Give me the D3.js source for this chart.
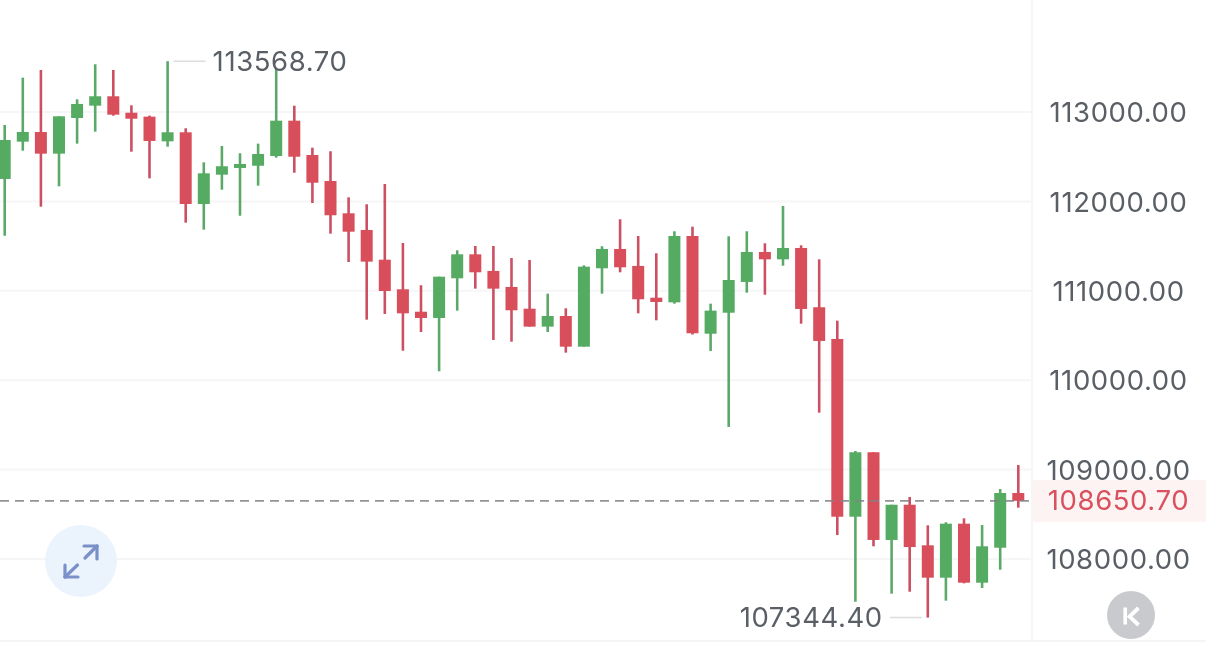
<!DOCTYPE html>
<html><head><meta charset="utf-8">
<style>html,body{margin:0;padding:0;background:#fff;overflow:hidden}svg{display:block;filter:blur(0.4px)}
text{font-family:Inter,Roboto,sans-serif;font-feature-settings:"pnum" 1;letter-spacing:0.6px;}</style>
<script src="https://cdn.jsdelivr.net/npm/d3@7"></script></head>
<body><svg id="c" width="1206" height="646"></svg>
<script>
const opens=[112251,112668,112776,112534,112933,113071,113176,112992,112948,112672,112773,111971,112299,112374,112399,112508,112903,112519,112228,111867,111680,111348,111017,110766,110696,111140,111408,111222,111043,110800,110599,110718,110375,111252,111468,111278,110923,110871,111613,110520,110755,111099,111434,111352,111479,110816,110461,108473,109194,108213,108607,108153,107791,108395,107735,108126,108738];
const closes=[112687,112776,112534,112952,113090,113176,112970,112925,112676,112773,111971,112314,112393,112418,112530,112903,112500,112209,111845,111661,111326,110998,110748,110696,111158,111408,111207,111024,110782,110599,110718,110375,111270,111468,111263,110905,110875,111613,110525,110778,111121,111434,111352,111479,110797,110439,108473,109194,108213,108607,108134,107791,108395,107735,108142,108738,108650.7];
const highs=[112855,113384,113470,112952,113142,113534,113470,113075,112959,113568.7,112818,112437,112620,112538,112646,113481,113071,112601,112561,112046,111968,112195,111535,111062,111158,111453,111501,111501,111367,111345,110968,110804,111285,111498,111800,111613,111420,111666,111717,110856,111610,111666,111531,111949,111509,111352,110666,109208,109194,108607,108694,108377,108411,108455,108380,108783,109051];
const lows=[111616,112567,111941,112169,112646,112780,112959,112556,112258,112612,111762,111684,112131,111840,112176,112489,112321,111982,111639,111322,110677,110741,110330,110539,110100,110778,111024,110450,110431,110599,110539,110308,110375,110968,111207,110748,110670,110856,110511,110327,109477,110979,110956,111281,110632,109637,108268,107522,108142,107612,107634,107344.4,107534,107728,107676,107880,108574];
const tickValues=[113000,112000,111000,110000,109000,108000];
const lastPrice=108650.70, maxPrice=113568.70, minPrice=107344.40;
const RED="#d84f5b", GREEN="#56ab63", RED_WICK="#cc5062", GREEN_WICK="#5aa968";
const TXT="#5a5f66";

const svg=d3.select("#c");
const x=d3.scaleLinear().domain([0,56]).range([4.7,1018.3]);
const y=d3.scaleLinear().domain([108000,113000]).range([559,112]);
const fmt=d3.format(".2f");
const axisX=1032;
const FS="27.5px";

// price band
svg.append("rect").attr("x",axisX).attr("y",y(lastPrice)-21).attr("width",1206-axisX).attr("height",42).attr("fill","#fdf3f2");
// grid
svg.append("g").selectAll("line").data(tickValues).join("line")
  .attr("x1",0).attr("x2",axisX).attr("y1",d=>y(d)).attr("y2",d=>y(d))
  .attr("stroke","#f6f6f8").attr("stroke-width",2);
// frame
svg.append("line").attr("x1",axisX).attr("x2",axisX).attr("y1",0).attr("y2",640).attr("stroke","#f6f6f8").attr("stroke-width",2);
svg.append("line").attr("x1",0).attr("x2",1206).attr("y1",641).attr("y2",641).attr("stroke","#f5f5f7").attr("stroke-width",2);

// expand button
const ex=svg.append("g").attr("transform","translate(81,561)");
ex.append("circle").attr("r",36).attr("fill","#ebf3fd");
const arrow=[[-16,16,-3.5,4],[-16,4,-16,16],[-16,16,-3,16],[16,-15,4,-3],[3,-15,16,-15],[16,-15,16,-2]];
ex.selectAll("line").data(arrow).join("line")
  .attr("x1",d=>d[0]).attr("y1",d=>d[1]).attr("x2",d=>d[2]).attr("y2",d=>d[3])
  .attr("stroke","#7a90c8").attr("stroke-width",3.2).attr("stroke-linecap","round");

// candles
const data=opens.map((o,i)=>({i,o,c:closes[i],h:highs[i],l:lows[i]}));
const up=d=>d.c>=d.o;
const g=svg.append("g").selectAll("g").data(data).join("g");
g.append("line").attr("x1",d=>x(d.i)).attr("x2",d=>x(d.i)).attr("y1",d=>y(d.h)).attr("y2",d=>y(d.l))
  .attr("stroke",d=>up(d)?GREEN_WICK:RED_WICK).attr("stroke-width",2.6);
g.append("rect").attr("x",d=>x(d.i)-6).attr("width",12)
  .attr("y",d=>y(Math.max(d.o,d.c))).attr("height",d=>Math.abs(y(d.o)-y(d.c)))
  .attr("fill",d=>up(d)?GREEN:RED);

// last price dashed line
svg.append("line").attr("x1",0).attr("x2",axisX).attr("y1",y(lastPrice)).attr("y2",y(lastPrice))
  .attr("stroke","#808186").attr("stroke-opacity",.85).attr("stroke-width",1.6).attr("stroke-dasharray","9 6");

// axis labels
const axis=d3.axisRight(y).tickValues(tickValues).tickFormat(fmt).tickSize(0);
const ag=svg.append("g").attr("transform","translate(1118.5,0)").call(axis);
ag.select(".domain").remove();
ag.selectAll("text").attr("x",0).attr("dy","0.35em").attr("text-anchor","middle")
  .style("font-size",FS).attr("fill",TXT);
ag.attr("font-family",null).attr("font-size",null);
svg.append("text").attr("x",1118.5).attr("y",y(lastPrice)).attr("dy","0.35em").attr("text-anchor","middle")
  .style("font-size",FS).attr("fill","#d9505f").text(fmt(lastPrice));

// extreme labels
const iMax=highs.indexOf(maxPrice), iMin=lows.indexOf(minPrice);
svg.append("line").attr("x1",x(iMax)+6).attr("x2",x(iMax)+38).attr("y1",y(maxPrice)).attr("y2",y(maxPrice)).attr("stroke","#dcdcdc").attr("stroke-width",1.5);
svg.append("text").attr("x",x(iMax)+45).attr("y",y(maxPrice)).attr("dy","0.35em").style("font-size",FS).attr("fill",TXT).text(fmt(maxPrice));
svg.append("line").attr("x1",x(iMin)-6).attr("x2",x(iMin)-38).attr("y1",y(minPrice)).attr("y2",y(minPrice)).attr("stroke","#dcdcdc").attr("stroke-width",1.5);
svg.append("text").attr("x",x(iMin)-45).attr("y",y(minPrice)).attr("dy","0.35em").attr("text-anchor","end").style("font-size",FS).attr("fill",TXT).text(fmt(minPrice));

// back button
const bk=svg.append("g").attr("transform","translate(1131,615)");
bk.append("circle").attr("r",24).attr("fill","#c9cacd");
bk.append("line").attr("x1",-5.8).attr("x2",-5.8).attr("y1",-7.5).attr("y2",9.5).attr("stroke","#fff").attr("stroke-width",3.6);
bk.append("path").attr("d","M7.5,-7L-1.5,1.5L7.5,10").attr("fill","none").attr("stroke","#fff").attr("stroke-width",3.8);
</script></body></html>
